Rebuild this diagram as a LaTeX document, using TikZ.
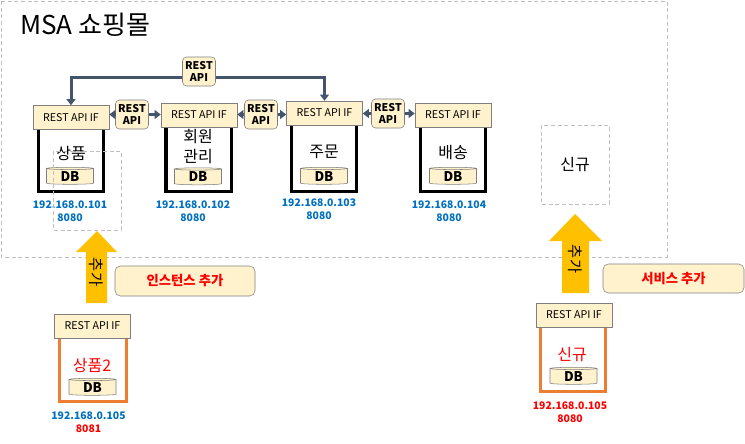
\documentclass[tikz,border=0pt]{standalone}
\usepackage{fontspec}
\setmainfont{Noto Sans CJK KR}
\usepackage{xcolor}
\usepackage{tikz}
\usetikzlibrary{shapes.geometric,arrows.meta,positioning}
\definecolor{ifcream}{HTML}{FFF2CC}
\definecolor{edgegray}{HTML}{7F7F7F}
\definecolor{linkblue}{HTML}{44546A}
\definecolor{ipblue}{HTML}{0070C0}
\definecolor{addyellow}{HTML}{FFC000}
\definecolor{addorange}{HTML}{ED7D31}
\definecolor{dashgray}{HTML}{BFBFBF}

\begin{document}
\begin{tikzpicture}[x=0.75pt, y=-0.75pt,
    ifbox/.style={rectangle, draw=edgegray, fill=ifcream, minimum width=57pt, minimum height=18pt, inner sep=0pt, font=\fontsize{8}{9}\selectfont},
    body/.style={rectangle, draw=#1, line width=2.5pt, minimum width=49pt, inner sep=0pt},
    dbcyl/.style={cylinder, shape border rotate=90, aspect=0.12, draw=edgegray, fill=ifcream, minimum width=35.25pt, minimum height=12.75pt, inner sep=0pt, font=\bfseries\fontsize{10}{10}\selectfont},
    svcname/.style={align=center, inner sep=0pt, font=\fontsize{12}{15}\selectfont},
    bubble/.style={rectangle, rounded corners=3pt, draw=edgegray, fill=ifcream, minimum width=24.75pt, minimum height=21.75pt, inner sep=0pt, align=center, font=\bfseries\fontsize{8}{8.5}\selectfont},
    iplabel/.style={align=center, inner sep=0pt, text=ipblue, font=\bfseries\fontsize{7.8}{9.75}\selectfont},
    link/.style={draw=linkblue, line width=2.25pt, -{Triangle[length=4.5pt,width=6.5pt]}},
    dashbox/.style={draw=dashgray, line width=0.75pt, dash pattern=on 3pt off 2pt},
    note/.style={rectangle, rounded corners=4pt, draw=edgegray, fill=ifcream, text=red, minimum width=105pt, minimum height=22.5pt, font=\bfseries\fontsize{10}{12}\selectfont},
]
\useasboundingbox (0,0) rectangle (745,443);

% MSA area
\draw[dashbox] (1,1) rectangle (667,257);
\node[anchor=base west, inner sep=0pt, font=\fontsize{19.5}{23}\selectfont] (title) at (20,34) {MSA 쇼핑몰};

% services
\node[body=black, minimum height=55.5pt] (bodyA) at (71,154.5) {};
\node[body=black, minimum height=57pt] (bodyB) at (198.5,153.5) {};
\node[body=black, minimum height=58.5pt] (bodyC) at (324,152.5) {};
\node[body=black, minimum height=57pt] (bodyD) at (453,153.5) {};

\node[ifbox] (hdrA) at (71,117.5) {REST API IF};
\node[ifbox] (hdrB) at (199,115) {REST API IF};
\node[ifbox] (hdrC) at (324.5,113) {REST API IF};
\node[ifbox] (hdrD) at (453,115) {REST API IF};

\node[svcname] (nameA) at (71,153) {상품};
\node[svcname] (nameB) at (198,147) {회원\\관리};
\node[svcname] (nameC) at (324,152) {주문};
\node[svcname] (nameD) at (453,153) {배송};

\node[dbcyl] (dbA) at (70,176.5) {DB};
\node[dbcyl] (dbB) at (198,177) {DB};
\node[dbcyl] (dbC) at (324,176.5) {DB};
\node[dbcyl] (dbD) at (453,176.5) {DB};

\node[iplabel] (ipA) at (70,211.5) {192.168.0.101\\8080};
\node[iplabel] (ipB) at (193,211.5) {192.168.0.102\\8080};
\node[iplabel] (ipC) at (319,209.5) {192.168.0.103\\8080};
\node[iplabel] (ipD) at (449,211.5) {192.168.0.104\\8080};

% REST calls
\coordinate (topbend) at (199,77);
\draw[link, {Triangle[length=4.5pt,width=6.5pt]}-{Triangle[length=4.5pt,width=6.5pt]}] (hdrA.north) |- (topbend) -| (hdrC.north);
\node[bubble] (apiTop) at (199,71.5) {REST\\API};
\node[bubble] (apiAB) at (132,114.5) {REST\\API};
\node[bubble] (apiBC) at (261,114.5) {REST\\API};
\node[bubble] (apiCD) at (388,113.5) {REST\\API};
\draw[link] (apiAB.west) -- (apiAB.west -| hdrA.east);
\draw[link] (apiAB.east) -- (apiAB.east -| hdrB.west);
\draw[link] (apiBC.west) -- (apiBC.west -| hdrB.east);
\draw[link] (apiBC.east) -- (apiBC.east -| hdrC.west);
\draw[link] (apiCD.west) -- (apiCD.west -| hdrC.east);
\draw[link] (apiCD.east) -- (apiCD.east -| hdrD.west);

% new slots
\draw[dashbox] (53,151) rectangle (121,230);
\draw[dashbox] (541,125) rectangle (609,204);
\node[svcname] (slotNew) at (575,165) {신규};

% add arrows
\fill[addyellow] (97,231) -- (117,252) -- (107,252) -- (107,303) -- (86,303) -- (86,252) -- (76,252) -- cycle;
\node[rotate=-90, inner sep=0pt, font=\fontsize{11.5}{12}\selectfont] (addA) at (96.5,272) {추가};
\fill[addyellow] (575,214) -- (602,241) -- (589,241) -- (589,293) -- (562,293) -- (562,241) -- (549,241) -- cycle;
\node[rotate=-90, inner sep=0pt, font=\fontsize{11.5}{12}\selectfont] (addN) at (575,259) {추가};

\node[note] (noteA) at (185,281) {인스턴스 추가};
\node[note, minimum width=105.75pt, minimum height=21.75pt] (noteN) at (673.5,278.5) {서비스 추가};

% added instances
\node[body=addorange, minimum width=50pt, minimum height=56pt] (bodyA2) at (93,364) {};
\node[ifbox] (hdrA2) at (92.5,326) {REST API IF};
\node[svcname, text=red] (nameA2) at (92,365) {상품2};
\node[dbcyl] (dbA2) at (92.5,387.5) {DB};
\node[iplabel] (ipA2) at (88.5,422.5) {192.168.0.105\\\textcolor{red}{8081}};

\node[body=addorange, minimum width=49pt, minimum height=57pt] (bodyN) at (573,353.5) {};
\node[ifbox] (hdrN) at (574,315) {REST API IF};
\node[svcname, text=red] (nameN) at (572,355) {신규};
\node[dbcyl] (dbN) at (573.5,376.5) {DB};
\node[iplabel, text=red] (ipN) at (570,412.5) {192.168.0.105\\8080};

\end{tikzpicture}
\end{document}
